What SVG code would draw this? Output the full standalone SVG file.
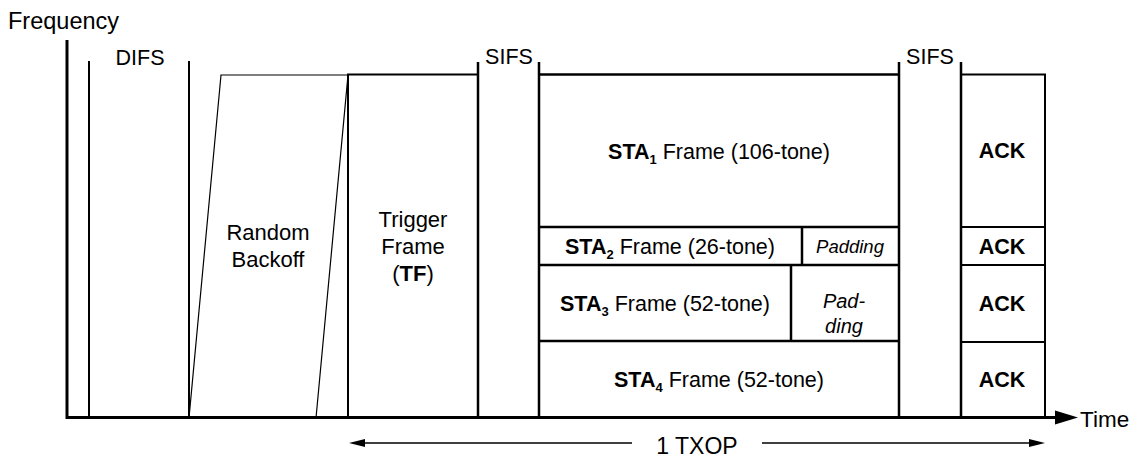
<svg xmlns="http://www.w3.org/2000/svg" width="1146" height="457" viewBox="0 0 1146 457">
<style>
text{font-family:"Liberation Sans",Arial,Helvetica,sans-serif;fill:#000}
.t{font-size:21.5px;text-anchor:middle}
.b{font-weight:bold}
.s{font-size:13px;font-weight:bold}
.it{font-style:italic;text-anchor:middle}
.ln{stroke:#000;fill:none}
.w1{stroke-width:1.2}
.w2{stroke-width:2}
.w25{stroke-width:2.5}
.w3{stroke-width:3}
</style>
<rect width="1146" height="457" fill="#fff"/>
<g id="axes">
<line class="ln w3" x1="67" y1="40" x2="67" y2="419"/>
<text x="8" y="29" style="font-size:23.5px">Frequency</text>
<text x="1080" y="427" style="font-size:22.5px">Time</text>
</g>
<g id="difs">
<line class="ln w2" x1="89" y1="61" x2="89" y2="418"/>
<line class="ln w2" x1="189" y1="61" x2="189" y2="418"/>
<text class="t" x="140" y="65">DIFS</text>
</g>
<g id="backoff">
<polygon class="ln w1" points="189,418 221,75 348,75 316,418"/>
<text class="t" x="268" y="240" style="font-size:22px">Random</text>
<text class="t" x="268" y="267" style="font-size:22px">Backoff</text>
</g>
<g id="tf">
<polyline class="ln w2" points="348,418 348,74.5 478,74.5"/>
<text class="t" x="413" y="227" style="font-size:22px">Trigger</text>
<text class="t" x="413" y="254" style="font-size:22px">Frame</text>
<text class="t" x="413" y="281" style="font-size:22px">(<tspan class="b">TF</tspan>)</text>
</g>
<g id="sifs1">
<line class="ln w25" x1="478" y1="62" x2="478" y2="418"/>
<line class="ln w25" x1="539" y1="62" x2="539" y2="418"/>
<text class="t" x="509" y="64">SIFS</text>
</g>
<g id="sta1">
<line class="ln w25" x1="539" y1="74.5" x2="899" y2="74.5"/>
<line class="ln w25" x1="539" y1="227" x2="899" y2="227"/>
<text class="t" x="719" y="159"><tspan class="b">STA</tspan><tspan class="s" dy="5">1</tspan><tspan dy="-5"> Frame (106-tone)</tspan></text>
</g>
<g id="sta2">
<line class="ln w25" x1="539" y1="265" x2="899" y2="265"/>
<line class="ln w25" x1="802" y1="227" x2="802" y2="265"/>
<text class="t" x="670" y="254"><tspan class="b">STA</tspan><tspan class="s" dy="5">2</tspan><tspan dy="-5"> Frame (26-tone)</tspan></text>
</g>
<g id="pad2">
<text class="it" x="850" y="253" style="font-size:18.5px">Padding</text>
</g>
<g id="sta3">
<line class="ln w25" x1="539" y1="341" x2="899" y2="341"/>
<line class="ln w25" x1="791" y1="265" x2="791" y2="341"/>
<text class="t" x="665" y="311"><tspan class="b">STA</tspan><tspan class="s" dy="5">3</tspan><tspan dy="-5"> Frame (52-tone)</tspan></text>
</g>
<g id="pad3">
<text class="it" x="844" y="308" style="font-size:20px">Pad-</text>
<text class="it" x="844" y="333" style="font-size:20px">ding</text>
</g>
<g id="sta4">
<text class="t" x="719" y="387"><tspan class="b">STA</tspan><tspan class="s" dy="5">4</tspan><tspan dy="-5"> Frame (52-tone)</tspan></text>
</g>
<g id="sifs2">
<line class="ln w25" x1="899" y1="62" x2="899" y2="418"/>
<line class="ln w25" x1="961" y1="62" x2="961" y2="418"/>
<text class="t" x="930" y="64">SIFS</text>
</g>
<g id="ack">
<polyline class="ln w2" points="961,74.5 1045,74.5 1045,418"/>
<line class="ln w2" x1="961" y1="227" x2="1045" y2="227"/>
<line class="ln w2" x1="961" y1="265" x2="1045" y2="265"/>
<line class="ln w2" x1="961" y1="342" x2="1045" y2="342"/>
<text class="t b" x="1002" y="158">ACK</text>
<text class="t b" x="1002" y="254">ACK</text>
<text class="t b" x="1002" y="311">ACK</text>
<text class="t b" x="1002" y="387">ACK</text>
</g>
<g id="connectors">
<line class="ln w3" x1="66" y1="417.5" x2="1058" y2="417.5"/>
<polygon points="1055,410.5 1078,417.5 1055,424.5" fill="#000"/>
<line class="ln" stroke-width="1.5" x1="356" y1="443" x2="632" y2="443"/>
<polygon points="349,443 365,439 365,447" fill="#000"/>
<line class="ln" stroke-width="1.5" x1="762" y1="443" x2="1034" y2="443"/>
<polygon points="1045,443 1029,439 1029,447" fill="#000"/>
<text x="697" y="454" style="font-size:23px;text-anchor:middle">1 TXOP</text>
</g>
</svg>
